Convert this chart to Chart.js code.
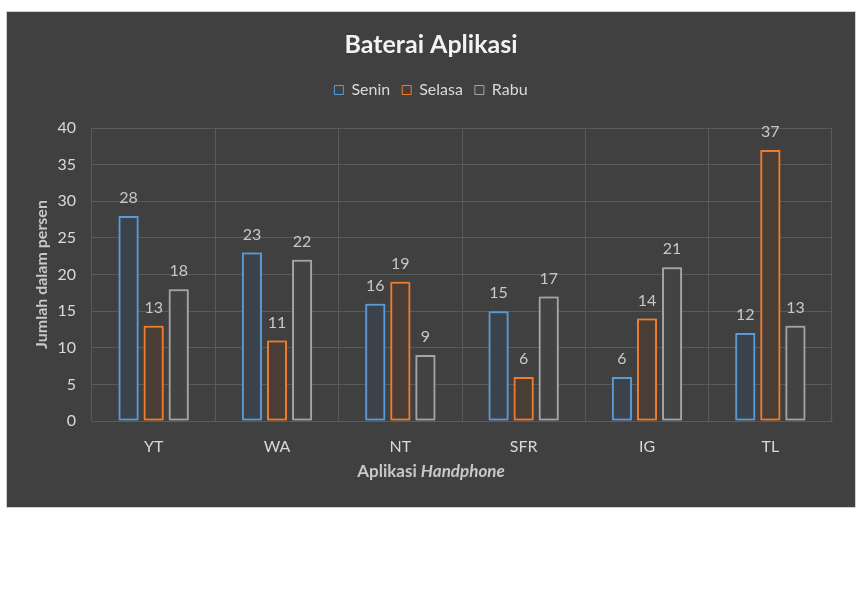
<!DOCTYPE html>
<html>
<head>
<meta charset="utf-8">
<script src="https://cdn.jsdelivr.net/npm/chart.js@4.4.1/dist/chart.umd.min.js"></script>
<style>
  html, body { margin: 0; padding: 0; background: #fff; }
  #panel {
    position: absolute; left: 7px; top: 12px;
    width: 848px; height: 495px;
    background: #404040;
    box-shadow: 0 0 0 1px #d0d0d0;
  }
  canvas { display: block; }
</style>
</head>
<body>
<div id="panel"><canvas id="batteryChart" width="848" height="495"></canvas></div>
<script>
// Data
const apps = ['YT', 'WA', 'NT', 'SFR', 'IG', 'TL'];
const senin = [28, 23, 16, 15, 6, 12];
const selasa = [13, 11, 19, 6, 14, 37];
const rabu = [18, 22, 9, 17, 21, 13];
const yTicks = [0, 5, 10, 15, 20, 25, 30, 35, 40];

const FONT = 'Lato, "Open Sans", sans-serif';
const textColor = '#d9d9d9';

// soft glow round each bar
const glowPlugin = {
    id: 'glow',
    beforeDatasetDraw(chart, args) {
        const ds = chart.data.datasets[args.index];
        chart.ctx.save();
        chart.ctx.shadowColor = ds.borderColor;
        chart.ctx.shadowBlur = 9;
    },
    afterDatasetDraw(chart) {
        chart.ctx.restore();
    }
};

// value labels above bars
const valueLabels = {
    id: 'valueLabels',
    afterDatasetsDraw(chart) {
        const ctx = chart.ctx;
        ctx.save();
        ctx.font = '16px ' + FONT;
        ctx.fillStyle = '#c8c8c8';
        ctx.textAlign = 'center';
        ctx.textBaseline = 'bottom';
        chart.data.datasets.forEach((ds, i) => {
            chart.getDatasetMeta(i).data.forEach((bar, j) => {
                ctx.fillText(ds.data[j], bar.x, bar.y - 10);
            });
        });
        ctx.restore();
    }
};

// axis titles (x title mixes bold and bold italic)
const axisTitles = {
    id: 'axisTitles',
    afterDraw(chart) {
        const ctx = chart.ctx;
        const area = chart.chartArea;
        ctx.save();
        ctx.fillStyle = '#c8c8c8';
        ctx.textBaseline = 'middle';

        const a = 'Aplikasi ';
        const b = 'Handphone';
        ctx.font = 'bold 17px ' + FONT;
        const wa = ctx.measureText(a).width;
        ctx.font = 'italic bold 17px ' + FONT;
        const wb = ctx.measureText(b).width;
        let x = chart.width / 2 - (wa + wb) / 2;
        const y = area.bottom + 51;
        ctx.textAlign = 'left';
        ctx.font = 'bold 17px ' + FONT;
        ctx.fillText(a, x, y);
        ctx.font = 'italic bold 17px ' + FONT;
        ctx.fillText(b, x + wa, y);

        ctx.translate(35, (area.top + area.bottom) / 2);
        ctx.rotate(-Math.PI / 2);
        ctx.textAlign = 'center';
        ctx.font = 'bold 16px ' + FONT;
        ctx.fillText('Jumlah dalam persen', 0, 0);
        ctx.restore();
    }
};

const ctx = document.getElementById('batteryChart').getContext('2d');
new Chart(ctx, {
    type: 'bar',
    data: {
        labels: apps,
        datasets: [
            { label: 'Senin', data: senin, borderColor: '#5b9bd5', backgroundColor: '#3b424c' },
            { label: 'Selasa', data: selasa, borderColor: '#ed7d31', backgroundColor: '#493d35' },
            { label: 'Rabu', data: rabu, borderColor: '#a5a5a5', backgroundColor: '#434343' }
        ]
    },
    options: {
        responsive: false,
        animation: false,
        devicePixelRatio: 1,
        datasets: {
            bar: { borderWidth: 2, borderSkipped: false, categoryPercentage: 0.61, barPercentage: 0.8 }
        },
        layout: { padding: 0 },
        plugins: {
            title: {
                display: true,
                text: 'Baterai Aplikasi',
                color: '#f2f2f2',
                font: { family: FONT, size: 25, weight: 'bold' },
                padding: { top: 18, bottom: 10 }
            },
            // empty spacer between legend and plot
            subtitle: {
                display: true,
                text: '',
                weight: 500,
                font: { size: 10 },
                padding: { top: 0, bottom: 8 }
            },
            legend: {
                display: true,
                labels: {
                    color: textColor,
                    font: { family: FONT, size: 16 },
                    boxWidth: 9,
                    boxHeight: 9,
                    padding: 12,
                    generateLabels(chart) {
                        return chart.data.datasets.map((ds, i) => ({
                            text: ds.label,
                            fillStyle: ds.backgroundColor,
                            strokeStyle: ds.borderColor,
                            lineWidth: 1,
                            fontColor: textColor,
                            datasetIndex: i
                        }));
                    }
                }
            },
            tooltip: { enabled: false }
        },
        scales: {
            x: {
                grid: { color: '#5a5a5a', drawTicks: false },
                border: { color: '#5a5a5a' },
                ticks: { color: textColor, font: { family: FONT, size: 16 }, padding: 16 },
                afterFit(scale) { scale.height = 86; }
            },
            y: {
                min: 0,
                max: 40,
                grid: { color: '#5a5a5a', drawTicks: false },
                border: { display: false },
                afterBuildTicks(scale) { scale.ticks = yTicks.map(v => ({ value: v })); },
                ticks: { color: textColor, font: { family: FONT, size: 16 }, padding: 16 },
                afterFit(scale) { scale.width = 85; }
            },
            // blank margin on the right so title and legend stay centred on the panel
            spacer: {
                position: 'right',
                min: 0,
                max: 40,
                grid: { display: false },
                border: { display: false },
                ticks: { display: false },
                afterFit(scale) { scale.width = 23; }
            }
        }
    },
    plugins: [glowPlugin, valueLabels, axisTitles]
});
</script>
</body>
</html>
